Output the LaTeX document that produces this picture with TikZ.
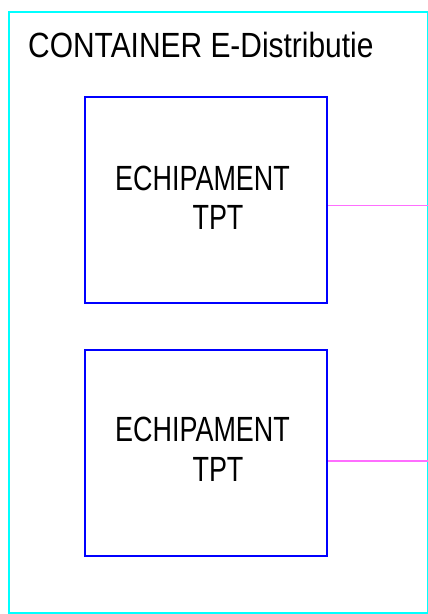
\documentclass[tikz,border=0pt]{standalone}
\usepackage{fontspec}
\setmainfont{Liberation Sans}
\usepackage{tikz}
\usetikzlibrary{
	positioning
}

\definecolor{framecyan}{RGB}{0,255,255}
\definecolor{boxblue}{RGB}{0,0,255}
\definecolor{linemagenta}{RGB}{255,110,255}

\newcommand{\cadtext}[2][0.77]{\scalebox{#1}[1]{#2}}

\tikzset{
	frame/.style={draw=framecyan,line width=1.4pt},
	equip/.style={draw=boxblue,line width=2pt,minimum width=242pt,minimum height=206pt,inner sep=0pt},
	label/.style={inner sep=0pt,font=\fontsize{35}{35}\selectfont},
	feed/.style={draw=linemagenta,line width=1pt}
}

\begin{document}
\begin{tikzpicture}[x=1pt,y=-1pt]
		\useasboundingbox (0,0) rectangle (428,614);
		\draw[frame] (9,12) rectangle (427.5,613);

		\draw
			node[label,anchor=base west] (title) at (28,57) {\cadtext[0.855]{CONTAINER E-Distributie}}

			node[equip]                   (eq1) at (206,200) {}
			node[equip,below=45pt of eq1] (eq2) {}

			node[label,anchor=base west] (eq1a) at (115,190) {\cadtext{ECHIPAMENT}}
			node[label,anchor=base]      (eq1b) at (218,229) {\cadtext{TPT}}
			node[label,anchor=base west] (eq2a) at (115,441) {\cadtext{ECHIPAMENT}}
			node[label,anchor=base]      (eq2b) at (218,481) {\cadtext{TPT}}
		;

		\coordinate (out1) at (428,205);
		\coordinate (out2) at (428,461);
		\draw[feed] (eq1.east |- out1) -- (out1);
		\draw[feed,line width=1.8pt] (eq2.east |- out2) -- (out2);
	\end{tikzpicture}
\end{document}
